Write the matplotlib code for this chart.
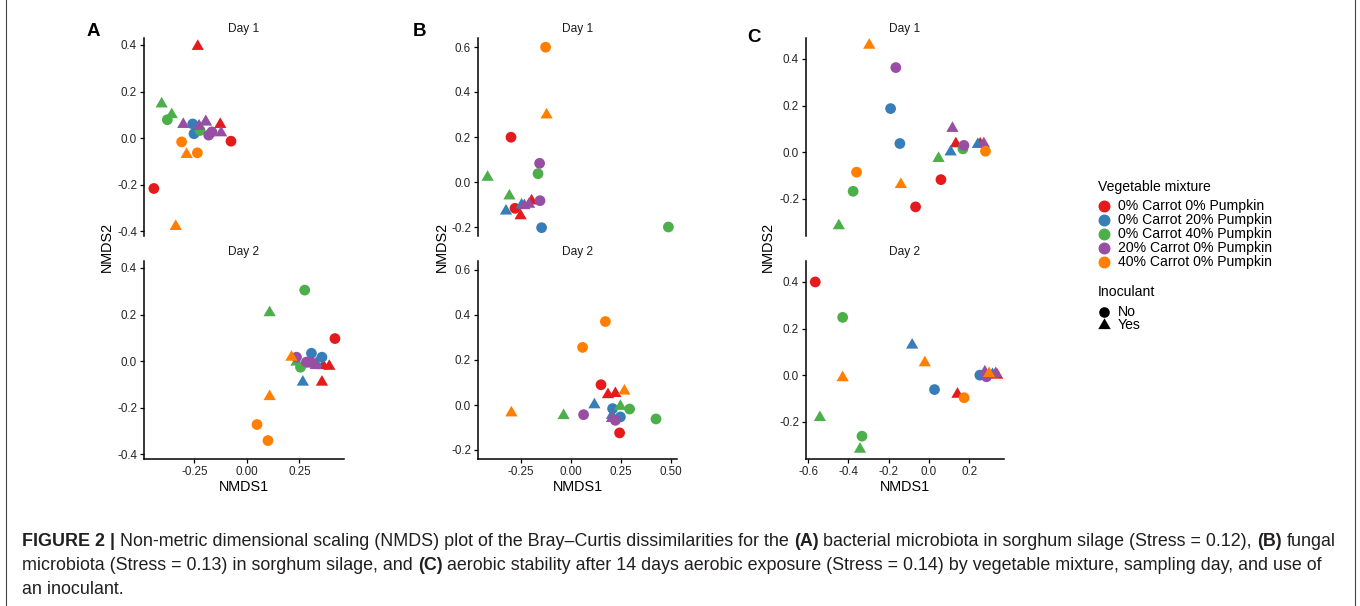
import matplotlib
matplotlib.use("Agg")
import matplotlib.pyplot as plt
from matplotlib import font_manager as fm
from matplotlib.font_manager import FontProperties
from matplotlib.lines import Line2D
from matplotlib.markers import MarkerStyle
from matplotlib.path import Path

names = {f.name for f in fm.fontManager.ttflist}
BASE = "Liberation Sans" if "Liberation Sans" in names else "DejaVu Sans"
CAP = "Liberation Sans Narrow" if "Liberation Sans Narrow" in names else BASE
plt.rcParams["font.family"] = [BASE, "DejaVu Sans"]

# ---------------- data ----------------
mixtures = ["0% Carrot 0% Pumpkin", "0% Carrot 20% Pumpkin", "0% Carrot 40% Pumpkin",
            "20% Carrot 0% Pumpkin", "40% Carrot 0% Pumpkin"]
mix_colors = ["#E41A1C", "#377EB8", "#4DAF4A", "#984EA3", "#FF7F00"]
inoculants = ["No", "Yes"]

# Panel A, Day 1   (mix index 0..4, inoculant 0=No 1=Yes)
a_d1_x = [-0.234, -0.127, -0.076, -0.443, -0.258, -0.252, -0.228, -0.196,
          -0.406, -0.358, -0.379, -0.223, -0.303, -0.123, -0.228, -0.196, -0.182, -0.167,
          -0.311, -0.236, -0.287, -0.339]
a_d1_y = [0.394, 0.059, -0.013, -0.216, 0.061, 0.019, 0.051, 0.070,
          0.147, 0.101, 0.079, 0.033, 0.059, 0.023, 0.051, 0.070, 0.013, 0.027,
          -0.016, -0.063, -0.070, -0.379]
a_d1_mix = [0, 0, 0, 0, 1, 1, 1, 1, 2, 2, 2, 2, 3, 3, 3, 3, 3, 3, 4, 4, 4, 4]
a_d1_inoc = [1, 1, 0, 0, 0, 0, 1, 1, 1, 1, 0, 0, 1, 1, 1, 1, 0, 0, 0, 0, 1, 1]

# Panel A, Day 2
a_d2_x = [0.419, 0.363, 0.392, 0.357, 0.307, 0.357, 0.266, 0.330,
          0.275, 0.255, 0.108, 0.236, 0.236, 0.283, 0.303, 0.328, 0.310,
          0.212, 0.108, 0.048, 0.100]
a_d2_y = [0.097, -0.019, -0.022, -0.090, 0.034, 0.017, -0.090, -0.010,
          0.305, -0.026, 0.208, -0.004, 0.017, -0.004, -0.004, -0.019, -0.012,
          0.017, -0.152, -0.272, -0.341]
a_d2_mix = [0, 0, 0, 0, 1, 1, 1, 1, 2, 2, 2, 2, 3, 3, 3, 3, 3, 4, 4, 4, 4]
a_d2_inoc = [0, 1, 1, 1, 0, 0, 1, 1, 0, 0, 1, 1, 0, 0, 0, 1, 1, 1, 1, 0, 0]

# Panel B, Day 1
b_d1_x = [-0.300, -0.280, -0.252, -0.197, -0.147, -0.325, -0.247,
          0.487, -0.165, -0.417, -0.308, -0.157, -0.155, -0.233, -0.210,
          -0.127, -0.122]
b_d1_y = [0.199, -0.117, -0.150, -0.084, -0.203, -0.129, -0.102,
          -0.200, 0.037, 0.021, -0.062, 0.083, -0.083, -0.105, -0.099,
          0.599, 0.298]
b_d1_mix = [0, 0, 0, 0, 1, 1, 1, 2, 2, 2, 2, 3, 3, 3, 3, 4, 4]
b_d1_inoc = [0, 0, 1, 1, 0, 1, 1, 0, 0, 1, 1, 0, 0, 1, 1, 0, 1]

# Panel B, Day 2
b_d2_x = [0.150, 0.243, 0.185, 0.222, 0.208, 0.247, 0.117, 0.205,
          0.293, 0.425, 0.247, -0.037, 0.063, 0.222, 0.205,
          0.172, 0.058, 0.267, -0.298]
b_d2_y = [0.090, -0.124, 0.046, 0.051, -0.016, -0.053, 0.001, -0.046,
          -0.018, -0.062, -0.006, -0.047, -0.043, -0.068, -0.060,
          0.371, 0.256, 0.062, -0.035]
b_d2_mix = [0, 0, 0, 0, 1, 1, 1, 1, 2, 2, 2, 2, 3, 3, 3, 4, 4, 4, 4]
b_d2_inoc = [0, 0, 1, 1, 0, 0, 1, 1, 0, 0, 1, 1, 0, 0, 1, 0, 0, 1, 1]

# Panel C, Day 1
c_d1_x = [0.060, -0.066, 0.134, 0.255, -0.190, -0.144, 0.108, 0.243,
          0.169, -0.376, 0.048, -0.447, -0.164, 0.174, 0.117, 0.273,
          -0.359, 0.281, -0.296, -0.139]
c_d1_y = [-0.118, -0.235, 0.036, 0.035, 0.187, 0.037, 0.001, 0.033,
          0.014, -0.168, -0.027, -0.316, 0.363, 0.029, 0.102, 0.036,
          -0.086, 0.004, 0.459, -0.139]
c_d1_mix = [0, 0, 0, 0, 1, 1, 1, 1, 2, 2, 2, 2, 3, 3, 3, 3, 4, 4, 4, 4]
c_d1_inoc = [0, 0, 1, 1, 0, 0, 1, 1, 0, 0, 1, 1, 0, 0, 1, 1, 0, 0, 1, 1]

# Panel C, Day 2
c_d2_x = [-0.564, 0.142, 0.253, 0.028, -0.083,
          -0.428, -0.332, -0.541, -0.342, 0.286, 0.278, 0.175,
          -0.020, -0.428, 0.299, 0.316, 0.332, 0.339]
c_d2_y = [0.400, -0.082, 0.000, -0.062, 0.129,
          0.248, -0.262, -0.182, -0.318, -0.007, 0.014, -0.097,
          0.053, -0.011, 0.007, 0.003, 0.007, 0.000]
c_d2_mix = [0, 0, 1, 1, 1, 2, 2, 2, 2, 3, 3, 4, 4, 4, 4, 1, 3, 0]
c_d2_inoc = [0, 1, 0, 0, 1, 0, 0, 1, 1, 0, 1, 0, 1, 1, 1, 1, 1, 1]

a_yticks = [-0.4, -0.2, 0.0, 0.2, 0.4]
a_yticklabels = ["-0.4", "-0.2", "0.0", "0.2", "0.4"]
a_xticks = [-0.25, 0.0, 0.25]
a_xticklabels = ["-0.25", "0.00", "0.25"]
b_yticks = [-0.2, 0.0, 0.2, 0.4, 0.6]
b_yticklabels = ["-0.2", "0.0", "0.2", "0.4", "0.6"]
b_xticks = [-0.25, 0.0, 0.25, 0.5]
b_xticklabels = ["-0.25", "0.00", "0.25", "0.50"]
c_yticks = [-0.2, 0.0, 0.2, 0.4]
c_yticklabels = ["-0.2", "0.0", "0.2", "0.4"]
c_xticks = [-0.6, -0.4, -0.2, 0.0, 0.2]
c_xticklabels = ["-0.6", "-0.4", "-0.2", "0.0", "0.2"]
day_labels = ["Day 1", "Day 2"]
panel_letters = ["A", "B", "C"]

caption_lines = [
    [("FIGURE 2 |", True), ("Non-metric dimensional scaling (NMDS) plot of the Bray\u2013Curtis dissimilarities for the", False),
     ("(A)", True), ("bacterial microbiota in sorghum silage (Stress = 0.12),", False), ("(B)", True), ("fungal", False)],
    [("microbiota (Stress = 0.13) in sorghum silage, and", False), ("(C)", True),
     ("aerobic stability after 14 days aerobic exposure (Stress = 0.14) by vegetable mixture, sampling day, and use of", False)],
    [("an inoculant.", False)],
]

# ---------------- figure ----------------
W, H = 1360, 606
fig = plt.figure(figsize=(W / 100, H / 100), dpi=100)
fig.patch.set_facecolor("white")

def px_axes(l, t, r, b):
    return fig.add_axes([l / W, (H - b) / H, (r - l) / W, (b - t) / H])

tri = MarkerStyle(Path([(-1, -0.577), (1, -0.577), (0, 1.155), (-1, -0.577)],
                       [Path.MOVETO, Path.LINETO, Path.LINETO, Path.CLOSEPOLY]))
markers = {0: "o", 1: tri}
sizes = {0: 60, 1: 104}

def draw_points(ax, xs, ys, mix, inoc):
    for g in range(len(mixtures)):
        for k in (0, 1):
            px = [x for x, m, i in zip(xs, mix, inoc) if m == g and i == k]
            py = [y for y, m, i in zip(ys, mix, inoc) if m == g and i == k]
            if px:
                ax.scatter(px, py, s=sizes[k], marker=markers[k], color=mix_colors[g],
                           edgecolors="none", zorder=3, clip_on=False)

def style_axis(ax, bottom_axis):
    for sp in ("top", "right"):
        ax.spines[sp].set_visible(False)
    ax.spines["left"].set_linewidth(1.1)
    ax.spines["bottom"].set_linewidth(1.1)
    ax.spines["bottom"].set_visible(bottom_axis)
    ax.tick_params(axis="both", length=3, width=0.9, pad=2, labelsize=8.4,
                   labelcolor="#262626", color="black")
    if not bottom_axis:
        ax.tick_params(axis="x", bottom=False, labelbottom=False)
    ax.set_facecolor("none")

panels = [
    dict(l=144, r=344, xlim=(-0.49, 0.462), ylim=(-0.42, 0.43),
         xt=a_xticks, xtl=a_xticklabels, yt=a_yticks, ytl=a_yticklabels,
         d=[(a_d1_x, a_d1_y, a_d1_mix, a_d1_inoc), (a_d2_x, a_d2_y, a_d2_mix, a_d2_inoc)],
         lx=93, ly=32, ylab_x=107),
    dict(l=478, r=677, xlim=(-0.465, 0.53), ylim=(-0.24, 0.64),
         xt=b_xticks, xtl=b_xticklabels, yt=b_yticks, ytl=b_yticklabels,
         d=[(b_d1_x, b_d1_y, b_d1_mix, b_d1_inoc), (b_d2_x, b_d2_y, b_d2_mix, b_d2_inoc)],
         lx=420, ly=32, ylab_x=442),
    dict(l=806, r=1004, xlim=(-0.61, 0.373), ylim=(-0.36, 0.49),
         xt=c_xticks, xtl=c_xticklabels, yt=c_yticks, ytl=c_yticklabels,
         d=[(c_d1_x, c_d1_y, c_d1_mix, c_d1_inoc), (c_d2_x, c_d2_y, c_d2_mix, c_d2_inoc)],
         lx=754, ly=37, ylab_x=768),
]
rows = [(38, 236), (261, 459)]
strip_y = [29, 252]

for p, letter in zip(panels, panel_letters):
    for r, (top, bot) in enumerate(rows):
        ax = px_axes(p["l"], top, p["r"], bot)
        ax.set_xlim(*p["xlim"])
        ax.set_ylim(*p["ylim"])
        ax.set_xticks(p["xt"])
        ax.set_xticklabels(p["xtl"])
        ax.set_yticks(p["yt"])
        ax.set_yticklabels(p["ytl"])
        style_axis(ax, bottom_axis=(r == 1))
        draw_points(ax, *p["d"][r])
        fig.text((p["l"] + p["r"]) / 2 / W, 1 - strip_y[r] / H, day_labels[r],
                 ha="center", va="center", fontsize=8.6, color="#1a1a1a")
    fig.text((p["l"] + p["r"]) / 2 / W, 1 - 487 / H, "NMDS1", ha="center", va="center",
             fontsize=10.4, color="black")
    fig.text(p["ylab_x"] / W, 1 - 247 / H, "NMDS2", ha="center", va="center",
             rotation=90, fontsize=10.4, color="black")
    fig.text(p["lx"] / W, 1 - p["ly"] / H, letter, ha="center", va="center",
             fontsize=13.5, fontweight="bold", color="black")

# ---------------- legend ----------------
fig.text(1098 / W, 1 - 187 / H, "Vegetable mixture", ha="left", va="center", fontsize=10.1)
leg_y = [206, 220, 234, 248, 262]
for name, col, yy in zip(mixtures, mix_colors, leg_y):
    fig.add_artist(Line2D([1104 / W], [1 - yy / H], marker="o", markersize=7.6, color=col,
                          linestyle="none", transform=fig.transFigure))
    fig.text(1118 / W, 1 - yy / H, name, ha="left", va="center", fontsize=10.1)
fig.text(1098 / W, 1 - 292 / H, "Inoculant", ha="left", va="center", fontsize=10.1)
for k, (lab, yy) in enumerate(zip(inoculants, [312, 325])):
    fig.add_artist(Line2D([1104 / W], [1 - yy / H], marker=markers[k],
                          markersize=7.6 if k == 0 else 10.4, color="black",
                          markeredgewidth=0, linestyle="none", transform=fig.transFigure))
    fig.text(1118 / W, 1 - yy / H, lab, ha="left", va="center", fontsize=10.1)

# ---------------- frame lines ----------------
for xx in (5.5, 1354.5):
    fig.add_artist(Line2D([xx / W, xx / W], [0, 1], color="#444444", linewidth=0.8,
                          transform=fig.transFigure))

# ---------------- caption ----------------
renderer = fig.canvas.get_renderer()

def text_width(s, fp):
    t = fig.text(0, 0, s, fontproperties=fp)
    w = t.get_window_extent(renderer).width
    t.remove()
    return w

def line_width(segs, size):
    fpn = FontProperties(family=[CAP, "DejaVu Sans"], size=size)
    fpb = FontProperties(family=[CAP, "DejaVu Sans"], size=size, weight="bold")
    sp = text_width("a a", fpn) - text_width("aa", fpn)
    tot = 0
    for i, (s, b) in enumerate(segs):
        tot += text_width(s, fpb if b else fpn)
        if i < len(segs) - 1:
            tot += sp
    return tot

size = 11.0
target = 1340 - 22
for _ in range(3):
    size *= target / line_width(caption_lines[0], size)

fpn = FontProperties(family=[CAP, "DejaVu Sans"], size=size)
fpb = FontProperties(family=[CAP, "DejaVu Sans"], size=size, weight="bold")
space = text_width("a a", fpn) - text_width("aa", fpn)
cap_y = [541, 565, 590]
for segs, yy in zip(caption_lines, cap_y):
    x = 22
    for s, b in segs:
        fp = fpb if b else fpn
        fig.text(x / W, 1 - yy / H, s, fontproperties=fp, ha="left", va="center", color="#231F20")
        x += text_width(s, fp) + space

fig.savefig("out.png", dpi=100, facecolor="white")
